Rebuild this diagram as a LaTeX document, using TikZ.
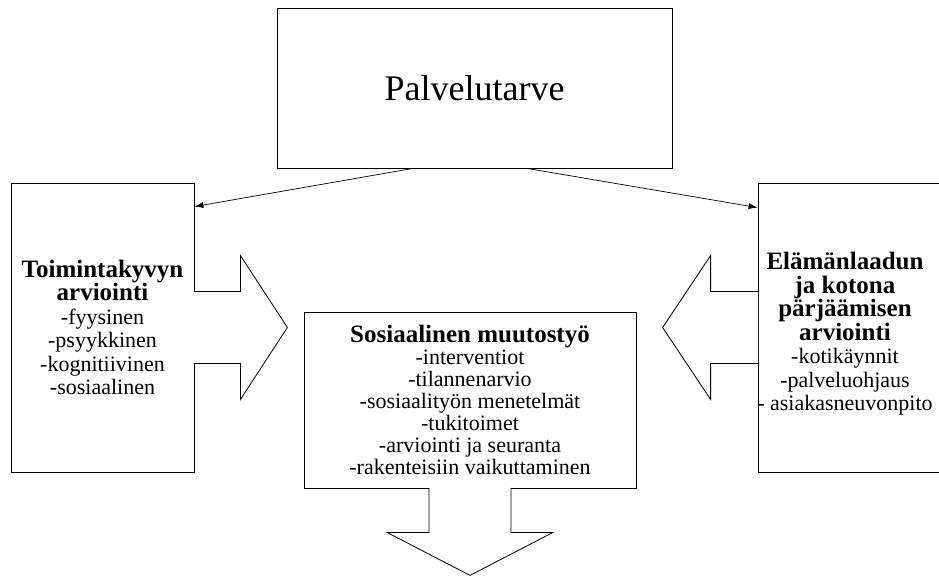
\documentclass[tikz,border=0pt]{standalone}
\usepackage{fontspec}
\setmainfont{Liberation Serif}
\usepgflibrary{arrows.meta}
\newcommand\otsikko[1]{{\fontsize{25}{23.5}\selectfont\bfseries #1}}

\begin{document}
\begin{tikzpicture}[x=1pt,y=-1pt,
  box/.style={draw,line width=0.8pt,fill=white,inner sep=0pt,align=center,
    font=\fontsize{22}{23.5}\selectfont},
  blockarrow/.style={draw,line width=0.8pt,fill=white,line join=miter},
  link/.style={-{Latex[length=9pt,width=6pt]},line width=0.7pt}]
\useasboundingbox (0,0) rectangle (939,577);

\node[box,minimum width=395,minimum height=160,font=\fontsize{36}{40}\selectfont] (tarve) at (474.5,88) {Palvelutarve};
\node[box,minimum width=183,minimum height=289] (toim) at (102.5,327.5)
  {\otsikko{Toimintakyvyn}\\\otsikko{arviointi}\\-fyysinen\\-psyykkinen\\-kognitiivinen\\-sosiaalinen};
% right box runs over the edge of the picture
\node[box,minimum width=187,minimum height=289] (elam) at (851.5,327.5) {};
\node[align=center,inner sep=0pt,font=\fontsize{22}{23.5}\selectfont] (elamteksti) at (845,334)
  {\otsikko{Elämänlaadun}\\\otsikko{ja kotona}\\\otsikko{pärjäämisen}\\\otsikko{arviointi}\\-kotikäynnit\\-palveluohjaus\\- asiakasneuvonpito};
\node[box,minimum width=332,minimum height=176,font=\fontsize{22}{22}\selectfont] (sos) at (470,400)
  {\otsikko{Sosiaalinen muutostyö}\\-interventiot\\-tilannenarvio\\-sosiaalityön menetelmät\\-tukitoimet\\-arviointi ja seuranta\\-rakenteisiin vaikuttaminen};

% connectors from the top box
\draw[link] ([xshift=-61.5pt]tarve.south) -- ([yshift=-24pt]toim.north east);
\draw[link] ([xshift=52.5pt]tarve.south) -- ([yshift=-25pt]elam.north west);

% block arrows
\path[blockarrow] ([xshift=-0.5pt,yshift=36pt]toim.east) -- ++(46.5,0) -- ++(0,-36) -- ++(47,72) -- ++(-47,72) -- ++(0,-36) -- ++(-46.5,0);
\path[blockarrow] ([xshift=0.5pt,yshift=36pt]elam.west) -- ++(-47.5,0) -- ++(0,-36) -- ++(-48,72) -- ++(48,72) -- ++(0,-36) -- ++(47.5,0);
\path[blockarrow] ([xshift=-41pt,yshift=0.5pt]sos.south) -- ++(0,44.5) -- ++(-42,0) -- ++(83,43) -- ++(83,-43) -- ++(-42,0) -- ++(0,-44.5);
\end{tikzpicture}
\end{document}
